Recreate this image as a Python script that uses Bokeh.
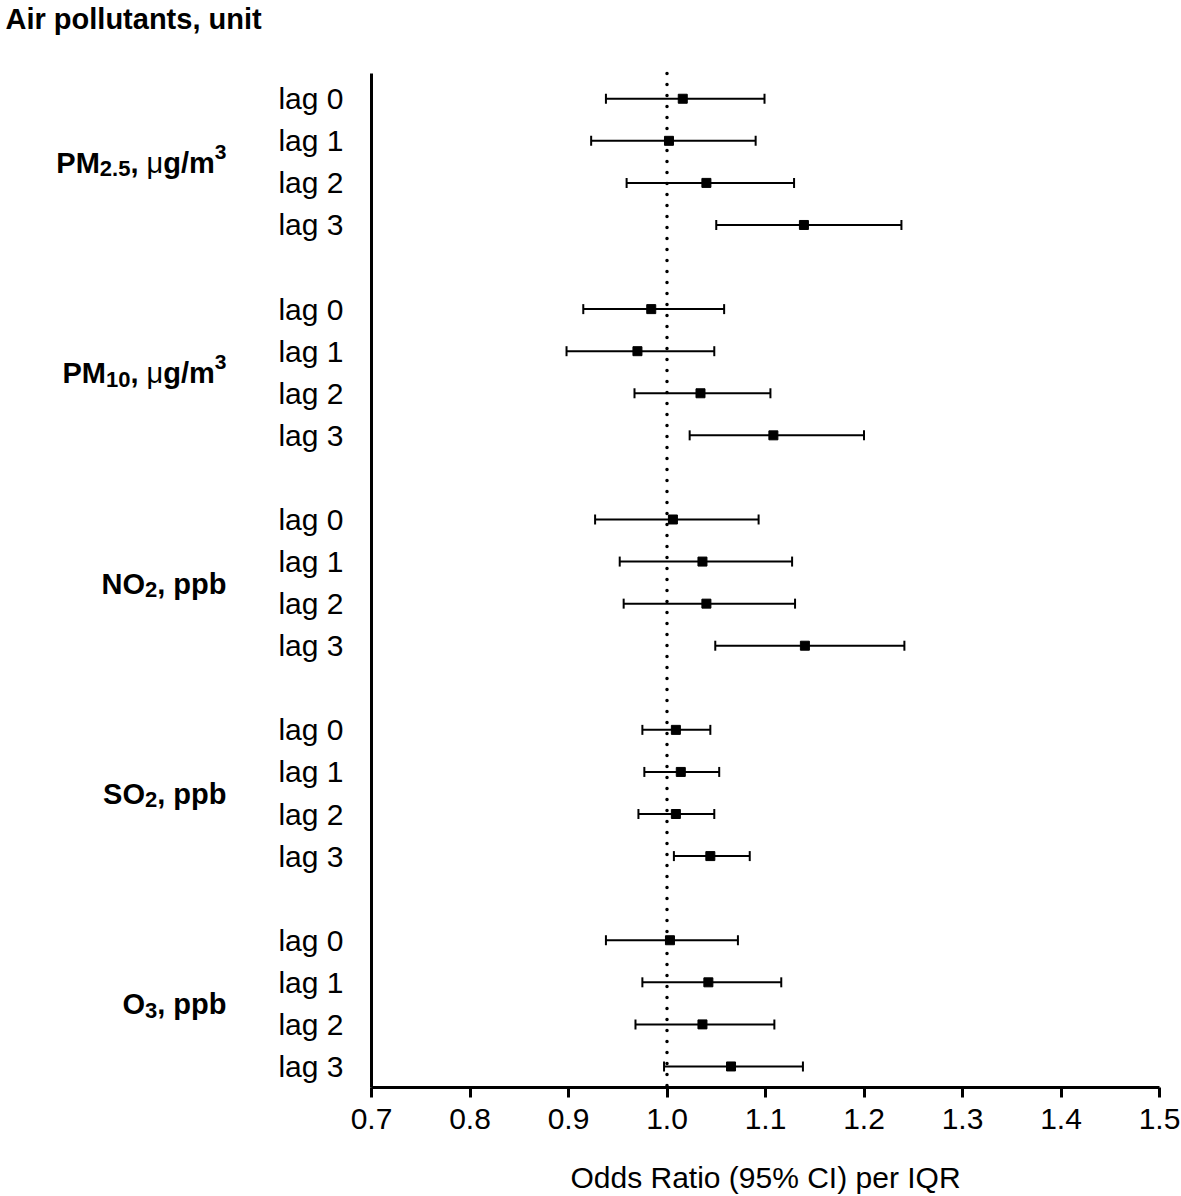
import math
from bokeh.plotting import figure
from bokeh.layouts import row
from bokeh.models import Range1d, FixedTicker
from bokeh.core.properties import value
from bokeh.embed import file_html
from bokeh.resources import INLINE

# ---------------- data ----------------
groups = ["PM2.5", "PM10", "NO2", "SO2", "O3"]
lag_labels = ["lag 0", "lag 1", "lag 2", "lag 3"]

pm25_or = [1.016, 1.002, 1.040, 1.139]
pm25_lo = [0.938, 0.923, 0.959, 1.050]
pm25_hi = [1.099, 1.090, 1.129, 1.238]

pm10_or = [0.984, 0.970, 1.034, 1.108]
pm10_lo = [0.915, 0.898, 0.967, 1.023]
pm10_hi = [1.058, 1.048, 1.105, 1.200]

no2_or = [1.006, 1.036, 1.040, 1.140]
no2_lo = [0.927, 0.952, 0.956, 1.049]
no2_hi = [1.093, 1.127, 1.130, 1.241]

so2_or = [1.009, 1.014, 1.009, 1.044]
so2_lo = [0.975, 0.977, 0.971, 1.007]
so2_hi = [1.044, 1.053, 1.048, 1.084]

o3_or = [1.003, 1.042, 1.036, 1.065]
o3_lo = [0.938, 0.975, 0.968, 0.997]
o3_hi = [1.072, 1.116, 1.109, 1.138]

x_ticks = [0.7, 0.8, 0.9, 1.0, 1.1, 1.2, 1.3, 1.4, 1.5]
x_tick_labels = ["0.7", "0.8", "0.9", "1.0", "1.1", "1.2", "1.3", "1.4", "1.5"]
ref_value = 1.0

title_text = "Air pollutants, unit"
x_title = "Odds Ratio (95% CI) per IQR"

# group label composition: (text, style)
group_parts = [
    [("PM", "main"), ("2.5", "sub"), (", ", "main"), ("\u03bc", "mu"), ("g/m", "main"), ("3", "sup")],
    [("PM", "main"), ("10", "sub"), (", ", "main"), ("\u03bc", "mu"), ("g/m", "main"), ("3", "sup")],
    [("NO", "main"), ("2", "sub"), (", ppb", "main")],
    [("SO", "main"), ("2", "sub"), (", ppb", "main")],
    [("O", "main"), ("3", "sub"), (", ppb", "main")],
]

series_or = [pm25_or, pm10_or, no2_or, so2_or, o3_or]
series_lo = [pm25_lo, pm10_lo, no2_lo, so2_lo, o3_lo]
series_hi = [pm25_hi, pm10_hi, no2_hi, so2_hi, o3_hi]

# ---------------- layout constants ----------------
FONT = "Liberation Sans"
TOTAL_W, H = 1181, 1196
LEFT_W = 268
FRAME_L, FRAME_R, AXIS_T, FRAME_B = 371, 1159, 73, 1087
Y_TOP, Y_BOT = -0.6, 23.5          # slot values at the axis top / bottom
K = (FRAME_B - AXIS_T) / (Y_BOT - Y_TOP)   # px per slot
Y_CANVAS_TOP = Y_TOP - AXIS_T / K          # slot value at the very top

slots, est, lo, hi = [], [], [], []
overrides = {}
for g in range(len(groups)):
    for j in range(len(lag_labels)):
        s = g * 5 + j
        slots.append(s)
        overrides[s] = lag_labels[j]
        est.append(series_or[g][j])
        lo.append(series_lo[g][j])
        hi.append(series_hi[g][j])

y_range = Range1d(Y_BOT, Y_CANVAS_TOP)

# ---------------- main plot ----------------
MAIN_W = TOTAL_W - LEFT_W
p = figure(width=MAIN_W, height=H, output_backend="svg", toolbar_location=None,
           x_range=Range1d(x_ticks[0], x_ticks[-1]), y_range=y_range,
           min_border_left=FRAME_L - LEFT_W, min_border_right=TOTAL_W - FRAME_R,
           min_border_top=0, min_border_bottom=H - FRAME_B)
p.outline_line_color = None
p.grid.visible = False
p.background_fill_color = "white"
p.border_fill_color = "white"

xa = p.xaxis[0]
xa.ticker = FixedTicker(ticks=x_ticks)
xa.major_label_overrides = {t: l for t, l in zip(x_ticks, x_tick_labels)}
xa.axis_line_width = 3
xa.axis_line_color = "black"
xa.major_tick_line_width = 3
xa.major_tick_line_color = "black"
xa.major_tick_out = 10
xa.major_tick_in = 0
xa.minor_tick_line_color = None
xa.major_label_text_font = FONT
xa.major_label_text_font_size = "30px"
xa.major_label_text_color = "black"
xa.major_label_standoff = 11
xa.axis_label = x_title
xa.axis_label_text_font = FONT
xa.axis_label_text_font_size = "30px"
xa.axis_label_text_font_style = "normal"
xa.axis_label_text_color = "black"
xa.axis_label_standoff = 29

ya = p.yaxis[0]
ya.ticker = FixedTicker(ticks=slots)
ya.major_label_overrides = overrides
ya.bounds = (Y_TOP, Y_BOT)
ya.axis_line_width = 3
ya.axis_line_color = "black"
ya.major_tick_line_color = None
ya.major_tick_out = 0
ya.major_tick_in = 0
ya.minor_tick_line_color = None
ya.major_label_text_font = FONT
ya.major_label_text_font_size = "30px"
ya.major_label_text_color = "black"
ya.major_label_standoff = 28

# dotted reference line at OR = 1 (from axis top to x axis)
p.segment(x0=[ref_value], y0=[Y_TOP], x1=[ref_value], y1=[Y_BOT],
          line_color="black", line_width=3.5, line_dash="0 11", line_cap="round")

p.segment(x0=lo, y0=slots, x1=hi, y1=slots, line_color="black", line_width=2)
p.scatter(x=lo, y=slots, marker="dash", angle=math.pi / 2, size=10,
          line_color="black", line_width=2)
p.scatter(x=hi, y=slots, marker="dash", angle=math.pi / 2, size=10,
          line_color="black", line_width=2)
p.scatter(x=est, y=slots, marker="square", size=9, fill_color="black",
          line_color="black")

# ---------------- left label panel ----------------
left = figure(width=LEFT_W, height=H, output_backend="svg", toolbar_location=None,
              x_range=Range1d(0, LEFT_W), y_range=y_range,
              x_axis_location=None, y_axis_location=None,
              min_border_left=0, min_border_right=0, min_border_top=0,
              min_border_bottom=H - FRAME_B)
left.outline_line_color = None
left.grid.visible = False
left.background_fill_color = "white"
left.border_fill_color = "white"

BOLD_W = {"P": .667, "M": .833, "N": .722, "O": .778, "S": .667, ",": .278,
          " ": .278, "g": .611, "/": .278, "m": .889, "p": .611, "b": .611,
          ".": .278}
REG_W = {"\u03bc": .576}
# size px, weight, baseline shift px (positive = up)
STYLES = {"main": (29, "bold", 0), "sub": (22, "bold", -6),
          "sup": (21, "bold", 11), "mu": (29, "normal", 0)}


def width_of(text, size, weight):
    tbl = BOLD_W if weight == "bold" else REG_W
    return sum(tbl.get(ch, 0.556) for ch in text) * size


RIGHT_EDGE = 226
BASE_DROP = 1  # px from group middle to rendered baseline
for g, parts in enumerate(group_parts):
    total = sum(width_of(t, STYLES[s][0], STYLES[s][1]) for t, s in parts)
    cur = RIGHT_EDGE - total
    ymid = g * 5 + 1.5
    for t, s in parts:
        size, weight, dy = STYLES[s]
        left.text(x=[cur], y=[ymid + (BASE_DROP - dy) / K], text=[t],
                  text_font=value(FONT), text_font_size=value(f"{size}px"),
                  text_font_style=value(weight), text_color="black",
                  text_align="left", text_baseline="alphabetic")
        cur += width_of(t, size, weight)

# title above the axis top
left.text(x=[5], y=[Y_TOP - 55 / K], text=[title_text],
          text_font=value(FONT), text_font_size=value("29px"),
          text_font_style=value("bold"), text_color="black",
          text_align="left", text_baseline="alphabetic")

layout = row(left, p)
open("out.html", "w").write(file_html(layout, INLINE))
